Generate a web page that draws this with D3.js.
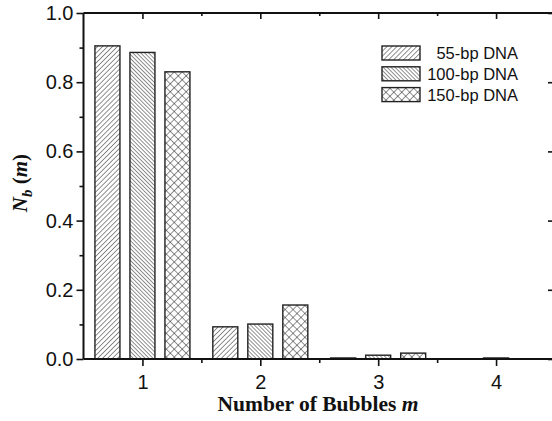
<!DOCTYPE html>
<html>
<head>
<meta charset="utf-8">
<script src="https://cdn.jsdelivr.net/npm/d3@7"></script>
<style>
  body { margin: 0; background: #fff; }
  svg { display: block; }
</style>
</head>
<body>
<div id="chart"></div>
<script>
// bubble counts and the fraction of states with that many bubbles
const categories = [1, 2, 3, 4];
const series = ["55-bp DNA", "100-bp DNA", "150-bp DNA"];
const values55 = [0.905, 0.093, 0.003, 0];
const values100 = [0.886, 0.101, 0.011, 0.003];
const values150 = [0.830, 0.156, 0.017, 0];
const yTicks = [0, 0.2, 0.4, 0.6, 0.8, 1.0];
const yMinor = [0.1, 0.3, 0.5, 0.7, 0.9];
const xMinor = [1.5, 2.5, 3.5];

const width = 552;
const height = 421;
const allValues = [values55, values100, values150];

const svg = d3.select("#chart")
	.append("svg")
	.attr("width", width)
	.attr("height", height);

const x = d3.scaleLinear().domain([0.5, 4.5]).range([83.5, 555]);
const y = d3.scaleLinear().domain([0, 1]).range([359, 13]);
const offset = d3.scaleBand()
	.domain(series)
	.range([-47.5, 47.5])
	.paddingInner(10 / 35);

// hatch patterns
const defs = svg.append("defs");
const hatch = [
	{ id: "p55", size: 3.5, angle: 45, cross: false },
	{ id: "p100", size: 2.8, angle: -45, cross: false },
	{ id: "p150", size: 5.6, angle: 45, cross: true }
];
hatch.forEach(h => {
	const p = defs.append("pattern")
		.attr("id", h.id)
		.attr("patternUnits", "userSpaceOnUse")
		.attr("width", h.size)
		.attr("height", h.size)
		.attr("patternTransform", `rotate(${h.angle})`);
	p.append("rect").attr("width", h.size).attr("height", h.size).attr("fill", "#fff");
	p.append("line")
		.attr("x1", 0).attr("y1", 0).attr("x2", 0).attr("y2", h.size)
		.attr("stroke", "#222").attr("stroke-width", 1);
	if (h.cross) {
		p.append("line")
			.attr("x1", 0).attr("y1", 0).attr("x2", h.size).attr("y2", 0)
			.attr("stroke", "#222").attr("stroke-width", 1);
	}
});

// bars
const bars = [];
series.forEach((s, i) => {
	categories.forEach((c, j) => {
		bars.push({ series: s, pat: hatch[i].id, cat: c, value: allValues[i][j] });
	});
});
svg.append("g")
	.selectAll("rect")
	.data(bars.filter(d => d.value > 0))
	.join("rect")
	.attr("x", d => x(d.cat) + offset(d.series))
	.attr("width", offset.bandwidth())
	.attr("y", d => y(d.value))
	.attr("height", d => y(0) - y(d.value))
	.attr("fill", d => `url(#${d.pat})`)
	.attr("stroke", "#222")
	.attr("stroke-width", 1.4);

// frame: left/bottom outward ticks, top/right inward ticks
const axisColor = "#111";
const tickFont = "'Liberation Sans', Arial, Helvetica, sans-serif";

const leftAxis = svg.append("g").attr("transform", `translate(${x(0.5)},0)`)
	.call(d3.axisLeft(y).tickValues(yTicks).tickSize(7).tickPadding(3).tickFormat(d3.format(".1f")));
leftAxis.append("g").call(d3.axisLeft(y).tickValues(yMinor).tickSize(4).tickFormat(""));

const bottomAxis = svg.append("g").attr("transform", `translate(0,${y(0)})`)
	.call(d3.axisBottom(x).tickValues(categories).tickSize(7).tickPadding(9).tickFormat(d3.format("d")));
bottomAxis.append("g").call(d3.axisBottom(x).tickValues(xMinor).tickSize(4).tickFormat(""));

const topAxis = svg.append("g").attr("transform", `translate(0,${y(1)})`)
	.call(d3.axisBottom(x).tickValues(categories).tickSize(6).tickFormat(""));
topAxis.append("g").call(d3.axisBottom(x).tickValues(xMinor).tickSize(3).tickFormat(""));

const rightAxis = svg.append("g").attr("transform", `translate(${x(4.5)},0)`)
	.call(d3.axisLeft(y).tickValues(yTicks).tickSize(7).tickFormat(""));
rightAxis.append("g").call(d3.axisLeft(y).tickValues(yMinor).tickSize(3).tickFormat(""));

svg.selectAll("g g .domain").remove();
leftAxis.select(".domain").attr("d", `M0,${y(0)}V${y(1)}`);
bottomAxis.select(".domain").attr("d", `M${x(0.5)},0H${x(4.5)}`);
topAxis.select(".domain").attr("d", `M${x(0.5)},0H${x(4.5)}`);
rightAxis.select(".domain").attr("d", `M0,${y(0)}V${y(1)}`);

svg.selectAll(".domain")
	.attr("stroke", axisColor)
	.attr("stroke-width", 2);
svg.selectAll(".tick line")
	.attr("stroke", axisColor)
	.attr("stroke-width", 1.6);
svg.selectAll(".tick text")
	.attr("fill", "#111")
	.style("font-family", tickFont)
	.style("font-size", "20px");

// legend
const legend = svg.append("g").attr("transform", "translate(382,46)");
const rowStep = 20.8;
series.forEach((s, i) => {
	const row = legend.append("g").attr("transform", `translate(0,${i * rowStep})`);
	row.append("rect")
		.attr("width", 38)
		.attr("height", 14)
		.attr("fill", `url(#${hatch[i].id})`)
		.attr("stroke", "#222")
		.attr("stroke-width", 1.4);
	row.append("text")
		.attr("x", 136)
		.attr("y", 13)
		.attr("text-anchor", "end")
		.style("font-family", tickFont)
		.style("font-size", "16.5px")
		.attr("fill", "#111")
		.text(s);
});

// axis titles
const serif = "'Liberation Serif', 'Times New Roman', Times, serif";
const xTitle = svg.append("text")
	.attr("x", 318)
	.attr("y", 411)
	.attr("text-anchor", "middle")
	.style("font-family", serif)
	.style("font-size", "21.5px")
	.style("font-weight", "bold")
	.attr("fill", "#111");
xTitle.append("tspan").text("Number of Bubbles ");
xTitle.append("tspan").style("font-style", "italic").text("m");

const yTitle = svg.append("text")
	.attr("transform", "translate(27,183) rotate(-90)")
	.attr("text-anchor", "middle")
	.style("font-family", serif)
	.style("font-size", "21px")
	.style("font-weight", "bold")
	.attr("fill", "#111");
yTitle.append("tspan").style("font-style", "italic").text("N");
yTitle.append("tspan").style("font-style", "italic").style("font-size", "15px").attr("dy", 5).text("b");
yTitle.append("tspan").attr("dy", -5).text(" (");
yTitle.append("tspan").style("font-style", "italic").text("m");
yTitle.append("tspan").text(")");
</script>
</body>
</html>
